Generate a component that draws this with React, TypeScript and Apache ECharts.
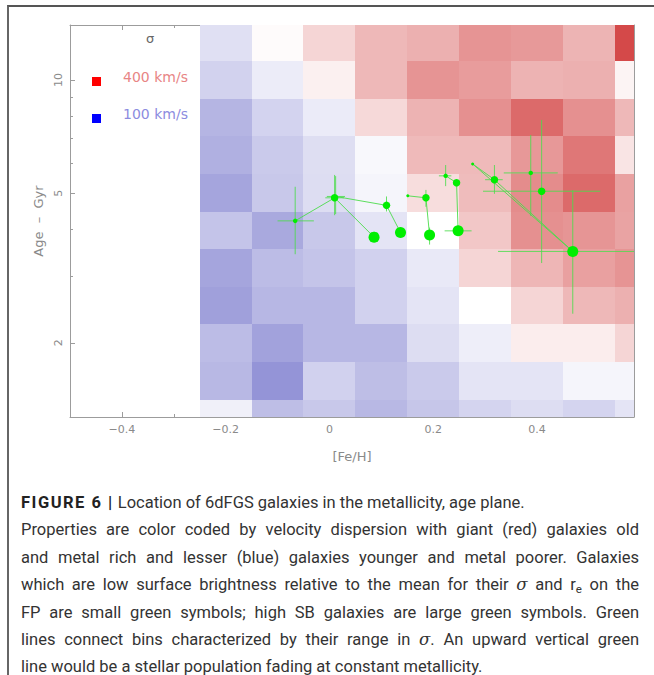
import React, { useEffect, useRef } from "react";
import * as echarts from "echarts";

// σ map: bin centres in [Fe/H] and in age (Gyr, 0.1 dex steps), σ in km/s per cell
const fehBins = [-0.2, -0.1, 0.0, 0.1, 0.2, 0.3, 0.4, 0.5, 0.6];
const ageBins = [12.59, 10.0, 7.943, 6.31, 5.012, 3.981, 3.162, 2.512, 1.995, 1.585, 1.259];
const sigmaGrid = [
  [211, 253, 283, 306, 312, 334, 330, 309, 393],
  [193, 226, 262, 306, 334, 328, 310, 312, 259],
  [157, 195, 225, 280, 310, 337, 367, 337, 306],
  [151, 183, 208, 241, 304, 304, 331, 357, 271],
  [136, 181, 207, 237, 277, 303, 340, 367, 324],
  [175, 141, 181, 216, 250, 294, 337, 333, 322],
  [136, 166, 175, 192, 222, 283, 307, 325, 334],
  [130, 159, 159, 192, 216, 250, 283, 306, 312],
  [166, 133, 159, 159, 207, 229, 264, 264, 283],
  [160, 115, 192, 168, 183, 216, 216, 238, 238],
  [231, 168, 181, 160, 178, 196, 207, 196, 216],
];

// green galaxy bins
const galFeh = [-0.066, 0.01, 0.086, 0.012, 0.11, 0.137, 0.151, 0.186, 0.193, 0.224, 0.245, 0.248, 0.276, 0.318, 0.469, 0.388, 0.409];
const galFehLo = [-0.1, -0.008, 0.08, -0.005, 0.104, 0.131, 0.151, 0.18, 0.187, 0.211, 0.245, 0.222, 0.276, 0.3, 0.325, 0.336, 0.296];
const galFehHi = [-0.03, 0.028, 0.092, 0.03, 0.116, 0.143, 0.151, 0.192, 0.199, 0.235, 0.245, 0.274, 0.276, 0.334, 0.6, 0.44, 0.522];
const galAge = [4.22, 4.86, 3.82, 4.9, 4.64, 3.93, 4.92, 4.86, 3.87, 5.56, 5.33, 3.97, 5.98, 5.43, 3.5, 5.66, 5.06];
const galAgeLo = [3.44, 4.37, 3.72, 4.4, 4.47, 3.85, 4.92, 4.6, 3.65, 5.22, 5.33, 3.85, 5.98, 4.98, 2.39, 4.35, 3.26];
const galAgeHi = [5.2, 5.59, 3.95, 5.55, 4.9, 4.02, 4.92, 5.1, 4.05, 5.94, 5.33, 4.1, 5.98, 5.94, 5.09, 7.14, 7.83];
// surface-brightness class: 0 lowest ... 3 highest
const galSB = [1, 2, 3, 0, 2, 3, 0, 2, 3, 1, 2, 3, 0, 2, 3, 1, 2];
const galLinks = [[0, 1], [1, 2], [3, 4], [4, 5], [6, 7], [7, 8], [9, 10], [10, 11], [12, 13], [13, 14], [12, 14]];

const legendSigma = [400, 100];

const xMajorTicks = [-0.4, -0.2, 0, 0.2, 0.4];
const xMinorTicks = [-0.3, -0.1, 0.1, 0.3, 0.5];
const ageMajorTicks = [2, 5, 10];
const ageMinorTicks = [3, 4, 6, 7, 8, 9];

const FEH_MIN = -0.5;
const FEH_MAX = 0.587;
const AGE_MIN = 1.27;
const AGE_MAX = 14.0;

function binEdges(c: number[], i: number): [number, number] {
  const n = c.length;
  const a = i === 0 ? c[0] - (c[1] - c[0]) / 2 : (c[i - 1] + c[i]) / 2;
  const b = i === n - 1 ? c[n - 1] + (c[n - 1] - c[n - 2]) / 2 : (c[i] + c[i + 1]) / 2;
  return [a, b];
}

export default function App() {
  const ref = useRef<HTMLDivElement>(null);

  useEffect(() => {
    const prevMargin = document.body.style.margin;
    document.body.style.margin = "0";
    const chart = echarts.init(ref.current!, null, { renderer: "svg" });
    const L = Math.log10;

    const logAge = ageBins.map(L);
    const heatData: number[][] = [];
    logAge.forEach((la, r) =>
      fehBins.forEach((f, c) => {
        const [x0, x1] = binEdges(fehBins, c);
        const [y0, y1] = binEdges(logAge, r);
        heatData.push([f, la, sigmaGrid[r][c], x0, x1, y0, y1]);
      })
    );
    const errData = galFeh.map((f, i) => [f, L(galAge[i]), galFehLo[i], galFehHi[i], L(galAgeLo[i]), L(galAgeHi[i])]);
    const ptData = galFeh.map((f, i) => [f, L(galAge[i]), galSB[i]]);
    const linkData = galLinks.map(([a, b]) => [galFeh[a], L(galAge[a]), galFeh[b], L(galAge[b])]);

    const font = "DejaVu Sans";
    const axisColor = "#9c9c9c";
    const labelColor = "#8a8a8a";
    const green = "#4cdc4c";
    const sbSize = [3, 4.5, 7.5, 11];

    const fmtFeh = (v: number) => (v < 0 ? "\u2212" + String(Math.abs(v)) : String(v));
    const fmtAge = (v: number) => String(Math.round(Math.pow(10, v)));

    const xBase = (position: string) => ({
      type: "value",
      position,
      min: FEH_MIN,
      max: FEH_MAX,
      splitLine: { show: false },
      axisLine: { show: true, onZero: false, lineStyle: { color: axisColor, width: 1 } },
    });
    const yBase = (position: string) => ({
      type: "value",
      position,
      min: L(AGE_MIN),
      max: L(AGE_MAX),
      splitLine: { show: false },
      axisLine: { show: true, onZero: false, lineStyle: { color: axisColor, width: 1 } },
    });
    const noLine = { show: false, onZero: false };

    const clipRect = (cs: any) => ({ x: cs.x, y: cs.y, width: cs.width, height: cs.height });

    const option: any = {
      animation: false,
      grid: { left: 70, top: 25, width: 564, height: 392 },
      visualMap: {
        type: "continuous",
        show: false,
        seriesIndex: 0,
        dimension: 2,
        min: 100,
        max: 400,
        inRange: { color: ["#8888d2", "#ffffff", "#d24040"] },
      },
      xAxis: [
        {
          ...xBase("bottom"),
          axisTick: { show: true, inside: true, length: 5, customValues: xMajorTicks, lineStyle: { color: axisColor } },
          axisLabel: { customValues: xMajorTicks, formatter: fmtFeh, margin: 7, color: labelColor, fontSize: 11, fontFamily: font },
          name: "[Fe/H]",
          nameLocation: "middle",
          nameGap: 33,
          nameTextStyle: { color: labelColor, fontSize: 13, fontFamily: font },
        },
        {
          ...xBase("bottom"),
          axisLine: noLine,
          axisTick: { show: true, inside: true, length: 3, customValues: xMinorTicks, lineStyle: { color: axisColor } },
          axisLabel: { show: false },
        },
        {
          ...xBase("top"),
          axisTick: { show: true, inside: true, length: 5, customValues: xMajorTicks, lineStyle: { color: axisColor } },
          axisLabel: { show: false },
        },
        {
          ...xBase("top"),
          axisLine: noLine,
          axisTick: { show: true, inside: true, length: 3, customValues: xMinorTicks, lineStyle: { color: axisColor } },
          axisLabel: { show: false },
        },
      ],
      yAxis: [
        {
          ...yBase("left"),
          axisTick: { show: true, inside: true, length: 5, customValues: ageMajorTicks.map(L), lineStyle: { color: axisColor } },
          axisLabel: {
            customValues: ageMajorTicks.map(L),
            formatter: fmtAge,
            rotate: 90,
            margin: 6,
            color: labelColor,
            fontSize: 11,
            fontFamily: font,
          },
          name: "Age  \u2013  Gyr",
          nameLocation: "middle",
          nameGap: 24,
          nameTextStyle: { color: labelColor, fontSize: 13, fontFamily: font },
        },
        {
          ...yBase("left"),
          axisLine: noLine,
          axisTick: { show: true, inside: true, length: 3, customValues: ageMinorTicks.map(L), lineStyle: { color: axisColor } },
          axisLabel: { show: false },
        },
        {
          ...yBase("right"),
          axisTick: { show: false },
          axisLabel: { show: false },
        },
      ],
      graphic: [
        { type: "text", left: 146, top: 32, style: { text: "\u03c3", fill: "#666", font: `13px "${font}"` } },
        { type: "rect", shape: { x: 92, y: 77, width: 9, height: 9 }, style: { fill: "#ff0000" } },
        {
          type: "text",
          x: 123,
          y: 77,
          style: { text: `${legendSigma[0]} km/s`, fill: "#e88585", font: `14px "${font}"`, verticalAlign: "middle" },
        },
        { type: "rect", shape: { x: 92, y: 114, width: 9, height: 9 }, style: { fill: "#0000ff" } },
        {
          type: "text",
          x: 123,
          y: 114,
          style: { text: `${legendSigma[1]} km/s`, fill: "#8c8ce0", font: `14px "${font}"`, verticalAlign: "middle" },
        },
      ],
      series: [
        {
          type: "custom",
          coordinateSystem: "cartesian2d",
          xAxisIndex: 0,
          yAxisIndex: 0,
          silent: true,
          data: heatData,
          encode: { x: 0, y: 1 },
          renderItem: (params: any, api: any) => {
            const pa = api.coord([api.value(3), api.value(5)]);
            const pb = api.coord([api.value(4), api.value(6)]);
            const cs = params.coordSys;
            const x0 = Math.round(Math.max(Math.min(pa[0], pb[0]), cs.x));
            const x1 = Math.round(Math.min(Math.max(pa[0], pb[0]), cs.x + cs.width));
            const y0 = Math.round(Math.max(Math.min(pa[1], pb[1]), cs.y));
            const y1 = Math.round(Math.min(Math.max(pa[1], pb[1]), cs.y + cs.height));
            if (x1 <= x0 || y1 <= y0) return null;
            return {
              type: "rect",
              shape: { x: x0, y: y0, width: x1 - x0, height: y1 - y0 },
              style: { fill: api.visual("color") },
            };
          },
        },
        {
          type: "custom",
          coordinateSystem: "cartesian2d",
          xAxisIndex: 0,
          yAxisIndex: 0,
          silent: true,
          data: errData,
          encode: { x: 0, y: 1 },
          renderItem: (params: any, api: any) => {
            const x = api.value(0);
            const y = api.value(1);
            const rect = clipRect(params.coordSys);
            const h = echarts.graphic.clipPointsByRect([api.coord([api.value(2), y]), api.coord([api.value(3), y])], rect);
            const v = echarts.graphic.clipPointsByRect([api.coord([x, api.value(4)]), api.coord([x, api.value(5)])], rect);
            const style = { stroke: green, lineWidth: 1, opacity: 0.85 };
            return {
              type: "group",
              children: [
                { type: "line", shape: { x1: h[0][0], y1: h[0][1], x2: h[1][0], y2: h[1][1] }, style },
                { type: "line", shape: { x1: v[0][0], y1: v[0][1], x2: v[1][0], y2: v[1][1] }, style },
              ],
            };
          },
        },
        {
          type: "custom",
          coordinateSystem: "cartesian2d",
          xAxisIndex: 0,
          yAxisIndex: 0,
          silent: true,
          data: linkData,
          encode: { x: [0, 2], y: [1, 3] },
          renderItem: (params: any, api: any) => {
            const a = api.coord([api.value(0), api.value(1)]);
            const b = api.coord([api.value(2), api.value(3)]);
            return {
              type: "line",
              shape: { x1: a[0], y1: a[1], x2: b[0], y2: b[1] },
              style: { stroke: green, lineWidth: 1, opacity: 0.9 },
            };
          },
        },
        {
          type: "scatter",
          xAxisIndex: 0,
          yAxisIndex: 0,
          silent: true,
          data: ptData,
          symbol: "circle",
          symbolSize: (v: number[]) => sbSize[v[2]],
          itemStyle: { color: "#00ee00", opacity: 1 },
        },
      ],
    };

    chart.setOption(option);
    return () => {
      chart.dispose();
      document.body.style.margin = prevMargin;
    };
  }, []);

  const sigmaI = <i style={{ fontFamily: '"DejaVu Serif", serif' }}>{"\u03c3"}</i>;
  const justified: React.CSSProperties = { width: 618, textAlign: "justify", textAlignLast: "justify" };

  return (
    <div style={{ position: "relative", width: 654, height: 675, overflow: "hidden", background: "#fff" }}>
      <div
        style={{
          position: "absolute",
          left: 7,
          top: 5,
          right: 0,
          bottom: 0,
          borderTop: "2px solid #555",
          borderLeft: "2px solid #666",
        }}
      />
      <div ref={ref} style={{ position: "absolute", left: 0, top: 0, width: 654, height: 475 }} />
      <div
        style={{
          position: "absolute",
          left: 21,
          top: 489,
          width: 618,
          fontFamily: 'Roboto, "Liberation Sans", sans-serif',
          fontSize: 16.5,
          lineHeight: "27.4px",
          color: "#333",
          whiteSpace: "nowrap",
        }}
      >
        <div>
          <b style={{ color: "#222", letterSpacing: "1.5px" }}>FIGURE 6 |</b> Location of 6dFGS galaxies in the metallicity,
          age plane.
        </div>
        <div style={justified}>Properties are color coded by velocity dispersion with giant (red) galaxies old</div>
        <div style={justified}>and metal rich and lesser (blue) galaxies younger and metal poorer. Galaxies</div>
        <div style={justified}>
          which are low surface brightness relative to the mean for their {sigmaI} and r
          <sub style={{ fontSize: "0.7em", verticalAlign: "-0.3em", lineHeight: 0 }}>e</sub> on the
        </div>
        <div style={justified}>FP are small green symbols; high SB galaxies are large green symbols. Green</div>
        <div style={justified}>lines connect bins characterized by their range in {sigmaI}. An upward vertical green</div>
        <div>line would be a stellar population fading at constant metallicity.</div>
      </div>
    </div>
  );
}
